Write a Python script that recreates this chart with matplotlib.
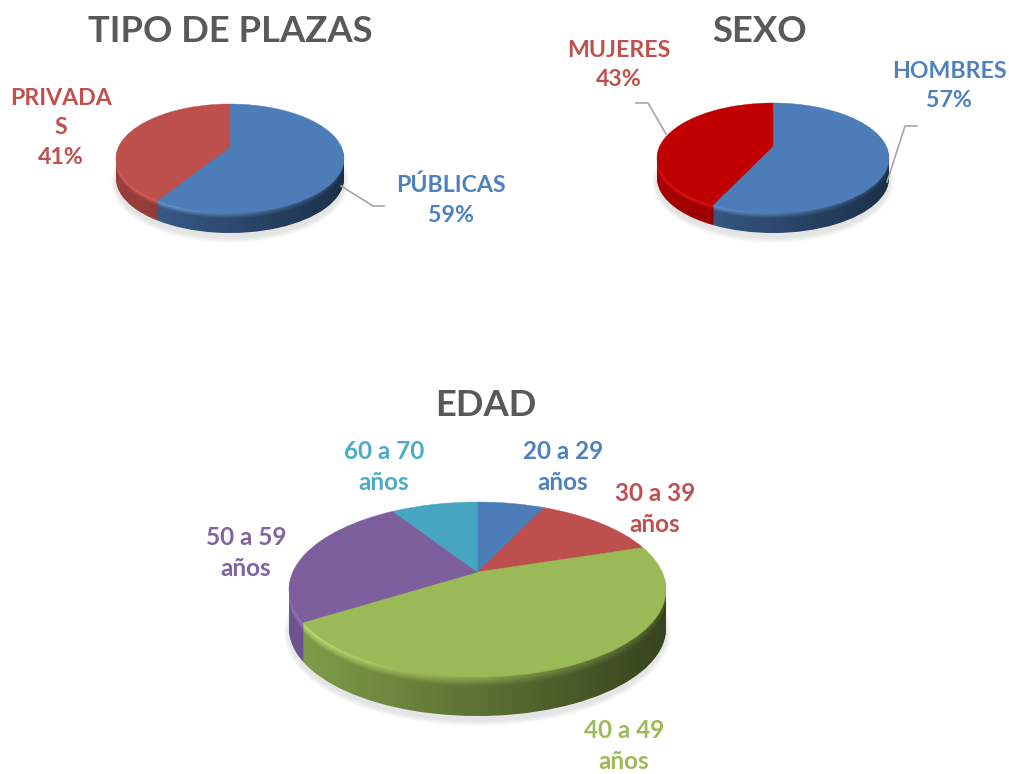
import numpy as np
import matplotlib
matplotlib.use('Agg')
import matplotlib.pyplot as plt
from matplotlib.colors import LinearSegmentedColormap, to_rgb
from matplotlib.patches import Wedge, Ellipse
from matplotlib.transforms import Transform

plt.rcParams['font.family'] = ['Lato', 'DejaVu Sans']

# data
tipo_labels = ['PÚBLICAS', 'PRIVADA\nS']
tipo_values = [59, 41]
sexo_labels = ['HOMBRES', 'MUJERES']
sexo_values = [57, 43]
edad_labels = ['20 a 29\naños', '30 a 39\naños', '40 a 49\naños', '50 a 59\naños', '60 a 70\naños']
edad_values = [7, 13, 46, 25, 9]

BLUE = ('#4d7db9', '#3f6496', '#1b2f47', '#7fb0ee', '#27425f')
RED = ('#bd4f4c', '#9a403e', '#6b2a28', '#e86560', '#7a3230')
DARKRED = ('#c00000', '#a80000', '#6e0000', '#f01818', '#800000')
GREEN = ('#9aba58', '#83a04a', '#37431d', '#c6ea78', '#4c5e29')
PURPLE = ('#7e5f9e', '#6f5490', '#4a3766', '#9678c0', '#574078')
CYAN = ('#47a7c2', '#3c8ea6', '#296a7d', '#62c5e0', '#2f7a90')


class Persp(Transform):
    # unit circle to a pixel ellipse seen from the front, apex sits above the middle
    input_dims = 2
    output_dims = 2
    is_separable = False
    has_inverse = False

    def __init__(self, cx, cy, a, b, k):
        super().__init__()
        self.cx, self.cy, self.a, self.b, self.k = cx, cy, a, b, k

    def transform_non_affine(self, values):
        values = np.asarray(values, dtype=float)
        w = 1 + self.k * values[:, 1]
        return np.column_stack([self.cx + self.b * values[:, 0] / w,
                                self.cy - self.a * values[:, 1] / w])


def mix(c1, c2, t):
    return tuple((1 - t) * np.array(to_rgb(c1)) + t * np.array(to_rgb(c2)))


def pie3d(ax, values, styles, cx, cy, up, down, half_w, depth, bevel):
    k = (down - up) / (down + up)
    a = up * (1 + k)
    b = half_w * np.sqrt(1 - k ** 2)
    x0, x1 = cx - half_w - 2, cx + half_w + 2
    y0, y1 = cy - up - 2, cy + down + depth + 2
    grad = np.linspace(0, 1, 256)[None, :]

    # soft shadow under the disc
    ymid = cy + (down - up) / 2 + depth
    for i in range(6):
        ax.add_patch(Ellipse((cx, ymid + 4), 2 * (half_w + 5 - i), 2 * ((up + down) / 2 + 6 - i),
                             fc='#808080', ec='none', alpha=0.035, zorder=1))

    wedges, _ = ax.pie(values, startangle=90, counterclock=False)
    for d in range(depth, 0, -1):
        t = max(0, 1 - (d - 1) / bevel)
        for w, st in zip(wedges, styles):
            clip = Wedge((0, 0), 1, w.theta1, w.theta2,
                         transform=Persp(cx, cy + d, a, b, k) + ax.transData)
            cmap = LinearSegmentedColormap.from_list('rim', [mix(st[1], st[3], t), mix(st[2], st[4], t)])
            im = ax.imshow(grad, extent=(x0, x1, y1, y0), cmap=cmap, aspect='auto',
                           interpolation='bilinear', zorder=2)
            im.set_clip_path(clip)
    for w, st in zip(wedges, styles):
        w.set_transform(Persp(cx, cy, a, b, k) + ax.transData)
        w.set_facecolor(st[0])
        w.set_edgecolor(st[0])
        w.set_linewidth(0.3)
        w.set_zorder(3)


fig = plt.figure(figsize=(10.09, 7.74), dpi=100)
ax = fig.add_axes([0, 0, 1, 1])

pie3d(ax, tipo_values, [BLUE, RED], 230, 147, 43, 66, 114, 20, 5)
pie3d(ax, sexo_values, [BLUE, DARKRED], 773, 146, 43, 67, 116, 20, 5)
pie3d(ax, edad_values, [BLUE, RED, GREEN, PURPLE, CYAN], 477.5, 572, 70, 105, 188.5, 39, 9)

ax.set_aspect('auto')
ax.set_xlim(0, 1009)
ax.set_ylim(774, 0)
ax.axis('off')

# leader lines
ax.plot([341, 373, 384], [186, 206, 206], color='#a6a6a6', lw=1.2, zorder=4)
ax.plot([887, 905, 917], [182, 126, 126], color='#a6a6a6', lw=1.2, zorder=4)
ax.plot([636, 648, 666], [103, 103, 134], color='#a6a6a6', lw=1.2, zorder=4)

# titles
for txt, x, y in [('TIPO DE PLAZAS', 230, 32), ('SEXO', 760, 32), ('EDAD', 486, 405)]:
    ax.text(x, y, txt, color='#595959', fontsize=26.2, fontweight='bold', ha='center', va='center')


def label(txt, x, y, color, size=16.7, spacing=1.52):
    ax.text(x, y, txt, color=color, fontsize=size, fontweight='bold', ha='center', va='center',
            linespacing=spacing, zorder=5)


label(f'{tipo_labels[0]}\n{tipo_values[0]}%', 451, 200, '#4f81bd')
label(f'{tipo_labels[1]}\n{tipo_values[1]}%', 61, 128, '#c0504d')
label(f'{sexo_labels[0]}\n{sexo_values[0]}%', 949, 86, '#4f81bd')
label(f'{sexo_labels[1]}\n{sexo_values[1]}%', 619, 65, '#c0504d')
label(edad_labels[0], 563, 467, '#4f81bd', 17.5, 1.42)
label(edad_labels[1], 655, 509, '#c0504d', 17.5, 1.42)
label(edad_labels[2], 624, 746, '#9bbb59', 17.5, 1.42)
label(edad_labels[3], 246, 553, '#8064a2', 17.5, 1.42)
label(edad_labels[4], 384, 467, '#4bacc6', 17.5, 1.42)

fig.savefig('out.png', dpi=100)
